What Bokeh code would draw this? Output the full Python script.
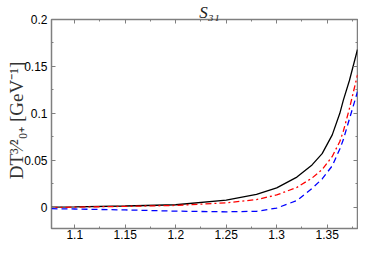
import math
from bokeh.plotting import figure
from bokeh.models import (LinearAxis, FixedTicker, Range1d, Label)
from bokeh.embed import file_html
from bokeh.resources import INLINE

# ---- data ----
x_vals = [1.077, 1.1, 1.15, 1.2, 1.25, 1.28, 1.3, 1.32, 1.335, 1.345, 1.355, 1.3625, 1.366, 1.372, 1.38]
black_vals = [0.0, 0.0003, 0.0012, 0.0025, 0.0075, 0.0135, 0.0205, 0.032, 0.045, 0.057, 0.077, 0.100, 0.114, 0.135, 0.168]
red_vals = [-0.0005, 0.0, 0.0008, 0.0018, 0.0046, 0.008, 0.013, 0.021, 0.031, 0.040, 0.054, 0.070, 0.081, 0.105, 0.141]
blue_vals = [-0.0017, -0.002, -0.003, -0.0043, -0.005, -0.0045, -0.001, 0.007, 0.020, 0.030, 0.044, 0.062, 0.072, 0.094, 0.123]

x_ticks = [1.1, 1.15, 1.2, 1.25, 1.3, 1.35]
x_tick_labels = ["1.1", "1.15", "1.2", "1.25", "1.3", "1.35"]
y_ticks = [0, 0.05, 0.1, 0.15, 0.2]
y_tick_labels = ["0", "0.05", "0.1", "0.15", "0.2"]
x_minor = [1.075, 1.125, 1.175, 1.225, 1.275, 1.325, 1.375]
y_minor = [-0.025, 0.025, 0.075, 0.125, 0.175]

title_text = "S\u2083\u2081"
ylabel_text = "DT\u00b3\u2044\u00b2\u2080\u208a [GeV\u207b\u00b9]"

X0, X1 = 1.077, 1.38
Y0, Y1 = -0.0228, 0.2

W, H = 358, 241
p = figure(width=W, height=H, output_backend="svg", toolbar_location=None,
           x_range=Range1d(X0, X1), y_range=Range1d(Y0, Y1),
           min_border_left=48, min_border_right=1, min_border_top=12, min_border_bottom=12,
           x_axis_location=None, y_axis_location=None)
p.grid.visible = False
p.outline_line_color = "#7f7f7f"
p.outline_line_width = 1.5
p.background_fill_color = "white"
p.border_fill_color = "white"

AX = "#7f7f7f"

def style(ax, labels=True, overrides=None):
    ax.axis_line_color = None
    ax.major_tick_line_color = AX
    ax.minor_tick_line_color = AX
    ax.major_tick_in = 4
    ax.major_tick_out = 0
    ax.minor_tick_in = 2
    ax.minor_tick_out = 0
    ax.major_tick_line_width = 1
    ax.minor_tick_line_width = 1
    ax.major_label_overrides = overrides
    if labels:
        ax.major_label_text_font = "Liberation Sans"
        ax.major_label_text_font_size = "12px"
        ax.major_label_text_color = "black"
    else:
        ax.major_label_text_font_size = "1px"

xt = FixedTicker(ticks=x_ticks, minor_ticks=x_minor)
yt = FixedTicker(ticks=y_ticks, minor_ticks=y_minor)

bx = LinearAxis(ticker=xt, major_label_standoff=1)
style(bx, True, {v: s for v, s in zip(x_ticks, x_tick_labels)})
p.add_layout(bx, "below")
ly = LinearAxis(ticker=yt, major_label_standoff=4)
style(ly, True, {v: s for v, s in zip(y_ticks, y_tick_labels)})
p.add_layout(ly, "left")
tx = LinearAxis(ticker=xt, major_label_standoff=0)
style(tx, False, {v: "" for v in x_ticks})
p.add_layout(tx, "above")
ry = LinearAxis(ticker=yt, major_label_standoff=0)
style(ry, False, {v: "" for v in y_ticks})
p.add_layout(ry, "right")

p.line(x_vals, black_vals, line_color="black", line_width=1.3)
p.line(x_vals, red_vals, line_color="red", line_width=1.3, line_dash="6 3 2 3")
p.line(x_vals, blue_vals, line_color="blue", line_width=1.3, line_dash="6 4")

# title (canvas px from top-left), placed in the top side panel
p.add_layout(Label(x=209, y=12, x_units="canvas", y_units="canvas",
                   text=title_text, text_font="Liberation Serif",
                   text_font_style="italic", text_font_size="17px",
                   text_color="#222222", text_align="center",
                   text_baseline="alphabetic"), "above")

# y label, rotated, placed in the left side panel
p.add_layout(Label(x=16, y=120, x_units="canvas", y_units="canvas",
                   text=ylabel_text, text_font="Liberation Serif",
                   text_font_size="19px", text_color="#333333",
                   text_align="center", text_baseline="alphabetic",
                   angle=math.pi / 2), "left")

open("out.html", "w").write(file_html(p, INLINE))
